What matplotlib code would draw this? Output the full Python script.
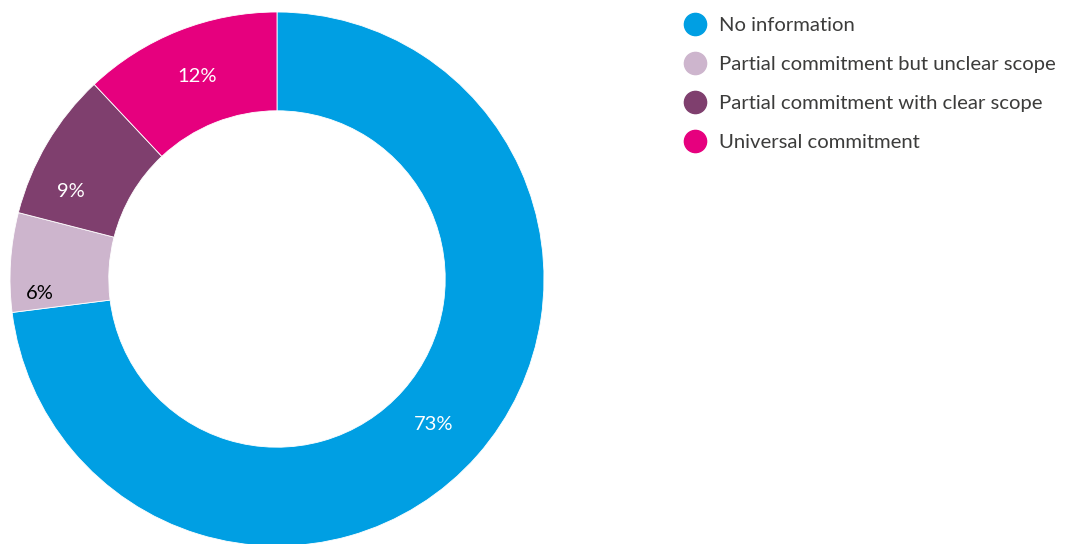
import numpy as np
import matplotlib
matplotlib.use("Agg")
import matplotlib.pyplot as plt
from matplotlib.lines import Line2D

plt.rcParams['font.family'] = ['Lato', 'DejaVu Sans']

categories = ["No information", "Partial commitment but unclear scope",
              "Partial commitment with clear scope", "Universal commitment"]
values = [73, 6, 9, 12]
colors = ["#009FE3", "#CDB5CD", "#7F3F6E", "#E6007E"]
label_colors = ["white", "black", "white", "white"]
# small nudges of the percentage labels (degrees, radius)
label_shift = [-1.5, 7.2, 7.6, 0.0]
label_radius = [0.80, 0.89, 0.84, 0.815]

W, H = 1072, 544
fig = plt.figure(figsize=(W / 100, H / 100), dpi=100)

cx, cy, R = 277, 279, 267
ax = fig.add_axes([(cx - R) / W, (H - cy - R) / H, 2 * R / W, 2 * R / H])
wedges, _ = ax.pie(values, colors=colors, startangle=90, counterclock=False,
                   radius=1.0, wedgeprops=dict(width=0.37, edgecolor="white", linewidth=0.6))
ax.set_xlim(-1, 1)
ax.set_ylim(-1, 1)
ax.set_aspect("equal")
ax.axis("off")

for w, v, c, s, r in zip(wedges, values, label_colors, label_shift, label_radius):
    ang = np.deg2rad((w.theta1 + w.theta2) / 2 + s)
    ax.text(r * np.cos(ang), r * np.sin(ang), "%d%%" % v, color=c,
            fontsize=14.5, ha="center", va="center")

handles = [Line2D([], [], marker="o", linestyle="none", markersize=16,
                  markerfacecolor=c, markeredgecolor=c) for c in colors]
fig.legend(handles, categories, loc="upper left", bbox_to_anchor=(676 / W, 1 - 9 / H),
           frameon=False, fontsize=14.6, labelcolor="#3C3C3B", handletextpad=0.6,
           labelspacing=1.07, borderaxespad=0, handlelength=1.1)

fig.savefig("out.png", dpi=100)
